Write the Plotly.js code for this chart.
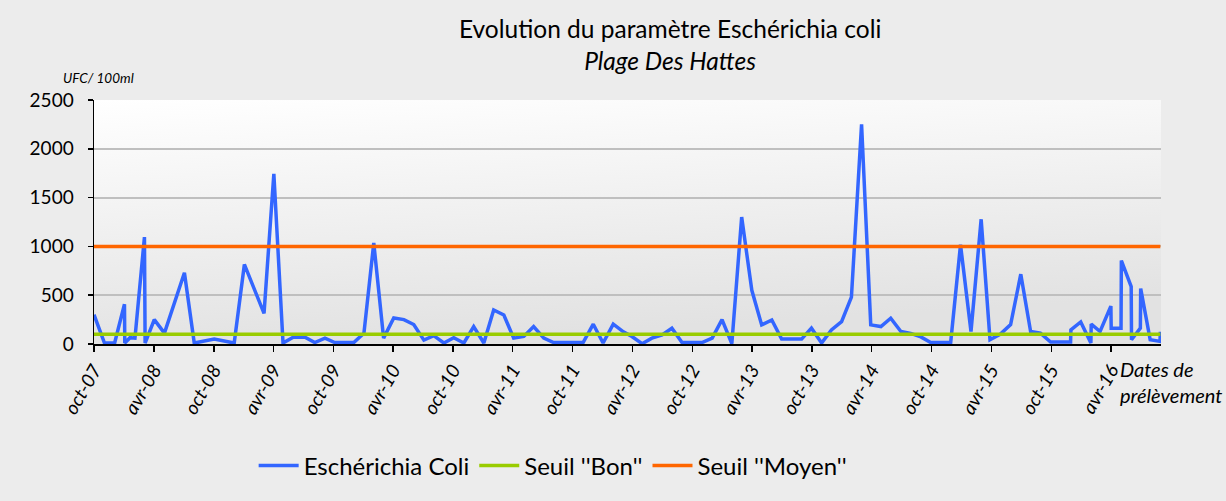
<!DOCTYPE html>
<html>
<head>
<meta charset="utf-8">
<script src="https://cdn.plot.ly/plotly-3.0.1.min.js"></script>
<style>
  html, body { margin: 0; padding: 0; background: #ffffff; }
  #chart { width: 1226px; height: 501px; }
</style>
</head>
<body>
<div id="chart"></div>
<script>
// ---- Data ----
const sampleDates = [
  '2007-10-01','2007-11-02','2007-12-03','2008-01-02','2008-01-03','2008-01-19','2008-02-03','2008-03-03','2008-03-05','2008-04-02',
  '2008-05-03','2008-07-03','2008-08-02','2008-10-02','2008-12-02','2009-01-02','2009-03-03','2009-04-02','2009-04-30','2009-05-31',
  '2009-07-06','2009-08-05','2009-09-05','2009-10-05','2009-12-02','2010-01-02','2010-02-01','2010-03-03','2010-04-03','2010-05-04',
  '2010-06-03','2010-07-04','2010-08-03','2010-09-03','2010-10-03','2010-11-03','2010-12-03','2011-01-03','2011-02-02','2011-03-05',
  '2011-04-04','2011-05-05','2011-06-04','2011-07-05','2011-08-04','2011-11-02','2011-12-03','2012-01-02','2012-02-02','2012-03-04',
  '2012-03-30','2012-04-30','2012-05-30','2012-06-30','2012-07-30','2012-08-30','2012-10-30','2012-11-30','2012-12-30','2013-01-29',
  '2013-02-28','2013-03-31','2013-04-30','2013-05-31','2013-06-30','2013-08-30','2013-09-29','2013-10-30','2013-11-29','2013-12-30',
  '2014-01-29','2014-03-01','2014-03-29','2014-04-29','2014-05-29','2014-06-29','2014-07-29','2014-08-29','2014-09-28','2014-11-28',
  '2014-12-28','2015-01-29','2015-03-01','2015-03-28','2015-04-28','2015-05-30','2015-06-30','2015-07-30','2015-08-29','2015-09-29',
  '2015-11-29','2015-11-30','2015-12-30','2016-01-30','2016-01-31','2016-02-27','2016-03-31','2016-04-01','2016-05-01','2016-05-02',
  '2016-06-01','2016-06-02','2016-06-29','2016-06-30','2016-07-29','2016-08-28','2016-08-29'
];
const ecoliValues = [
  300, 10, 10, 408, 10, 65, 60, 1095, 10, 250,
  111, 730, 10, 50, 10, 815, 314, 1744, 10, 70,
  70, 15, 60, 15, 15, 111, 1035, 60, 267, 250,
  200, 40, 85, 10, 65, 10, 179, 10, 348, 297,
  60, 77, 179, 60, 15, 15, 203, 10, 203, 125,
  77, 3, 60, 94, 162, 15, 15, 60, 250, 3,
  1301, 550, 196, 246, 50, 50, 162, 10, 145, 229,
  480, 2251, 196, 179, 264, 128, 108, 72, 15, 15,
  1017, 128, 1278, 44, 100, 200, 715, 128, 111, 20,
  20, 145, 226, 10, 204, 128, 388, 162, 162, 855,
  588, 44, 162, 568, 44, 27, 125
];
const seuilBon = 100;
const seuilMoyen = 1000;
const tickDates = [
  '2007-10-01','2008-04-01','2008-10-01','2009-04-01','2009-10-01','2010-04-01',
  '2010-10-01','2011-04-01','2011-10-01','2012-04-01','2012-10-01','2013-04-01',
  '2013-10-01','2014-04-01','2014-10-01','2015-04-01','2015-10-01','2016-04-01'
];
const tickLabels = [
  'oct-07','avr-08','oct-08','avr-09','oct-09','avr-10',
  'oct-10','avr-11','oct-11','avr-12','oct-12','avr-13',
  'oct-13','avr-14','oct-14','avr-15','oct-15','avr-16'
];
const seriesNames = ['Eschérichia Coli', "Seuil ''Bon''", "Seuil ''Moyen''"];
const axisStart = '2007-10-01';
const axisEnd = '2016-08-31';

// ---- Chart ----
const FONT = 'Lato, "Open Sans", sans-serif';
const firstDate = sampleDates[0];
const lastDate = sampleDates[sampleDates.length - 1];

const traces = [
  { x: sampleDates, y: ecoliValues, type: 'scatter', mode: 'lines', name: seriesNames[0],
    line: { color: '#3366FF', width: 3.5 } },
  { x: [firstDate, lastDate], y: [seuilBon, seuilBon], type: 'scatter', mode: 'lines', name: seriesNames[1],
    line: { color: '#99CC00', width: 3.5 } },
  { x: [firstDate, lastDate], y: [seuilMoyen, seuilMoyen], type: 'scatter', mode: 'lines', name: seriesNames[2],
    line: { color: '#FF6600', width: 3.5 } }
];

const gradSvg = '<svg xmlns="http://www.w3.org/2000/svg" width="100" height="100" preserveAspectRatio="none">' +
  '<defs><linearGradient id="g" x1="0" y1="0" x2="0.25" y2="1">' +
  '<stop offset="0" stop-color="#FFFFFF"/><stop offset="1" stop-color="#E2E2E2"/></linearGradient></defs>' +
  '<rect width="100" height="100" fill="url(#g)"/></svg>';

const layout = {
  width: 1226, height: 501,
  paper_bgcolor: '#ECECEC',
  plot_bgcolor: 'rgba(0,0,0,0)',
  margin: { l: 94, r: 65, t: 100, b: 157 },
  font: { family: FONT, color: '#000000', size: 17 },
  title: {
    text: 'Evolution du paramètre Eschérichia coli<br><i>Plage Des Hattes</i>',
    font: { family: FONT, size: 24.5, color: '#000000' },
    x: 662 / 1226, xanchor: 'center', xref: 'paper',
    y: 1 - 38 / 501, yanchor: 'middle', yref: 'container'
  },
  showlegend: true,
  legend: {
    orientation: 'h', x: 527 / 1226, xanchor: 'center', y: -0.50, yanchor: 'middle',
    font: { family: FONT, size: 24, color: '#000000' },
    bgcolor: 'rgba(0,0,0,0)', itemwidth: 40, tracegroupgap: 0
  },
  xaxis: {
    type: 'date', range: [axisStart, axisEnd],
    tickmode: 'array', tickvals: tickDates, ticktext: tickLabels,
    tickangle: -60, ticks: 'outside', ticklen: 6, tickcolor: '#000000', tickwidth: 1.5,
    tickfont: { family: FONT, size: 19, color: '#000000', style: 'italic' },
    showline: true, linecolor: '#000000', linewidth: 1.5,
    showgrid: false, zeroline: false, fixedrange: true
  },
  yaxis: {
    range: [0, 2500], tickvals: [0, 500, 1000, 1500, 2000, 2500],
    ticks: 'outside', ticklen: 5, tickcolor: '#000000', tickwidth: 1.5,
    tickfont: { family: FONT, size: 19, color: '#000000' },
    ticklabelstandoff: 10,
    showline: true, linecolor: '#000000', linewidth: 1.5,
    showgrid: true, gridcolor: '#BFBFBF', gridwidth: 2,
    zeroline: false, fixedrange: true
  },
  images: [{
    source: 'data:image/svg+xml;charset=utf-8,' + encodeURIComponent(gradSvg),
    xref: 'x domain', yref: 'y domain', x: 0, y: 1, sizex: 1, sizey: 1,
    xanchor: 'left', yanchor: 'top', sizing: 'stretch', layer: 'below'
  }],
  annotations: [
    { text: '<i>UFC/ 100ml</i>', xref: 'paper', yref: 'paper', x: (61 - 94) / 1067, y: 1 + 22 / 244,
      xanchor: 'left', yanchor: 'middle', showarrow: false,
      font: { family: FONT, size: 13.5, color: '#000000' } },
    { text: '<i>Dates de<br>prélèvement</i>', xref: 'paper', yref: 'paper', x: (1118 - 94) / 1067, y: -(382 - 344) / 244,
      xanchor: 'left', yanchor: 'middle', align: 'left', showarrow: false,
      font: { family: FONT, size: 20, color: '#000000' } }
  ]
};

Plotly.newPlot('chart', traces, layout, { staticPlot: true, displayModeBar: false });
</script>
</body>
</html>
